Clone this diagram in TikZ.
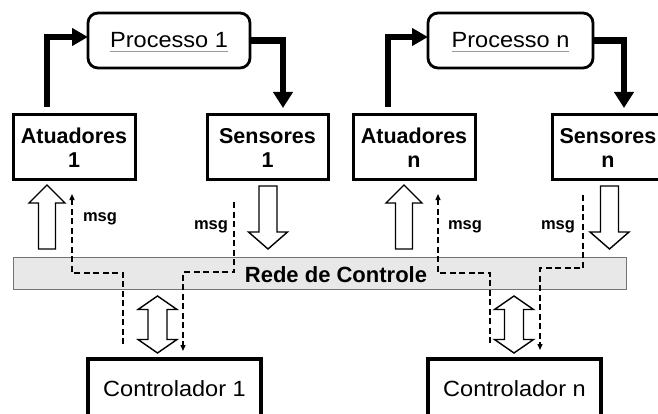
\documentclass[tikz,border=0pt]{standalone}
\usepackage{fontspec}
\setmainfont{Liberation Sans}
\newfontfamily\widesans{Liberation Sans}[FakeStretch=1.07]
\usetikzlibrary{arrows.meta}

% text with a thin grey underline that does not add to the depth
\newsavebox\ulbox
\newcommand\grayul[1]{\sbox\ulbox{#1}\usebox\ulbox\llap{\smash{\textcolor{gray!80}{\rule[-4pt]{\wd\ulbox}{0.9pt}}}}}

\begin{document}
\begin{tikzpicture}[x=1pt,y=-1pt,
  procbox/.style={draw, line width=2.8pt, rounded corners=10pt, minimum width=#1,
    minimum height=55pt, inner sep=0pt, outer sep=0pt,
    font=\fontsize{22}{24}\widesans},
  iobox/.style={draw, line width=3pt, minimum width=#1, minimum height=65pt,
    align=center, inner sep=0pt, outer sep=0pt,
    font=\fontsize{21.5}{24}\selectfont\bfseries},
  ctrlbox/.style={draw, line width=3.5pt, minimum width=173pt, minimum height=59pt,
    inner sep=0pt, outer sep=0pt, font=\fontsize{22}{24}\widesans},
  bus/.style={draw=black!55, fill=gray!18, line width=1pt, inner sep=0pt, outer sep=0pt},
  bustext/.style={inner sep=0pt, font=\fontsize{22}{24}\selectfont\bfseries},
  msg/.style={inner sep=0pt, font=\fontsize{16.5}{18}\selectfont\bfseries},
  loopline/.style={line width=6.5pt},
  msgline/.style={line width=1.3pt, dash pattern=on 6pt off 3.5pt,
    -{Triangle[length=6pt,width=5pt]}},
  hollow/.style={draw=black, fill=white, line width=1.4pt, line join=miter},
  pics/uparrow/.style={code={
    \draw[hollow] (0,0) -- (18,18) -- (8.5,18) -- (8.5,64) -- (-8.5,64)
      -- (-8.5,18) -- (-18,18) -- cycle;}},
  pics/downarrow/.style={code={
    \draw[hollow] (0,0) -- (19.5,-17) -- (9,-17) -- (9,-63) -- (-9,-63)
      -- (-9,-17) -- (-19.5,-17) -- cycle;}},
  pics/bothways/.style={code={
    \draw[hollow] (0,-28.5) -- (19.5,-15) -- (9.5,-15) -- (9.5,15) -- (19.5,15)
      -- (0,28.5) -- (-19.5,15) -- (-9.5,15) -- (-9.5,-15) -- (-19.5,-15) -- cycle;}}
]
\useasboundingbox (0,0) rectangle (658,414);
\clip (0,0) rectangle (658,414);

% network bar
\node[bus, minimum width=613pt, minimum height=32pt] (rede) at (319.5,273) {};
\node[bustext] (redet) at (336,274.5) {Rede de Controle};

% processes
\node[procbox=162pt] (p1) at (169,40.5) {\grayul{Processo 1}};
\node[procbox=165pt] (pn) at (510.5,40.5) {\grayul{Processo n}};

% actuators and sensors
\node[iobox=122pt] (a1) at (74,147.5) {Atuadores\\1};
\node[iobox=121pt] (s1) at (267.5,147.5) {Sensores\\1};
\node[iobox=122pt] (an) at (414,147.5) {Atuadores\\n};
\node[iobox=112pt] (sn) at (608,147.5) {Sensores\\n};

% controllers
\node[ctrlbox] (c1) at (174.5,388.5) {Controlador 1};
\node[ctrlbox] (cn) at (514.5,388.5) {Controlador n};

% control loops through the processes
\draw[loopline, -{Triangle[length=16pt,width=17pt]}]
  ([shift={(-27,-8)}]a1.north) |- ([yshift=3.5pt]p1.west);
\draw[loopline, -{Triangle[length=16pt,width=19pt]}]
  (p1.east) -| ([shift={(15.5,-7)}]s1.north);
\draw[loopline, -{Triangle[length=16pt,width=17pt]}]
  ([shift={(-26,-8)}]an.north) |- ([yshift=3.5pt]pn.west);
\draw[loopline, -{Triangle[length=16pt,width=19pt]}]
  (pn.east) -| ([shift={(16,-7)}]sn.north);

% data flow to and from the network
\pic at ([shift={(-27,5)}]a1.south) {uparrow};
\pic at ([shift={(0.5,69)}]s1.south) {downarrow};
\pic at ([shift={(-10,5)}]an.south) {uparrow};
\pic at ([shift={(1.5,69)}]sn.south) {downarrow};
\pic at ([shift={(-17,-34.5)}]c1.north) {bothways};
\pic at ([shift={(-0.5,-34.5)}]cn.north) {bothways};

% messages
\draw[msgline] ([shift={(-51.5,-15)}]c1.north) -- ++(0,-71) -| ([shift={(-2,14)}]a1.south);
\draw[msgline] ([shift={(-33.5,22)}]s1.south) -- ++(0,70) -| ([shift={(8.5,-8)}]c1.north);
\draw[msgline] ([shift={(-24.5,-16)}]cn.north) -- ++(0,-70) -| ([shift={(24,14)}]an.south);
\draw[msgline] ([shift={(-25,15)}]sn.south) -- ++(0,73) -| ([shift={(25.5,-9)}]cn.north);

\node[msg] (l1) at (100,219) {msg};
\node[msg] (l2) at (211,227) {msg};
\node[msg] (l3) at (465,227) {msg};
\node[msg] (l4) at (558,227) {msg};
\end{tikzpicture}
\end{document}
